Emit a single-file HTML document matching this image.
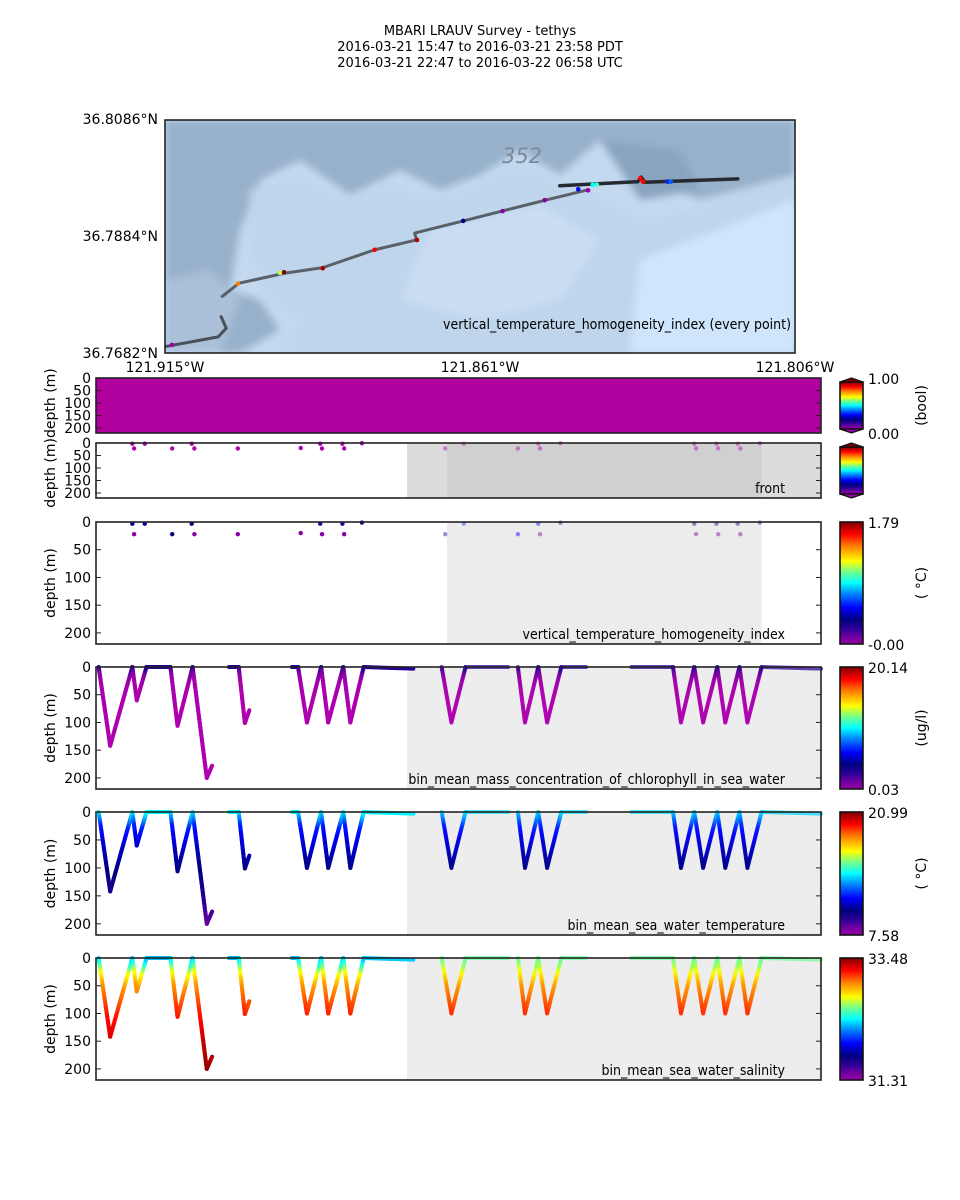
<!DOCTYPE html>
<html><head><meta charset="utf-8"><style>
html,body{margin:0;padding:0;background:#fff;}
svg{display:block;font-family:"DejaVu Sans","Liberation Sans",sans-serif;}
.t{font-size:13px;fill:#000;}
.tk{font-size:14px;fill:#000;}
.lbl{font-size:14px;fill:#000;font-stretch:condensed;}
</style></head><body>
<svg id="fig" width="960" height="1200" viewBox="0 0 960 1200" xmlns="http://www.w3.org/2000/svg">
<defs>
<linearGradient id="cmap" x1="0" y1="1" x2="0" y2="0">
<stop offset="0" stop-color="#9800a8"/><stop offset="0.06" stop-color="#7000a0"/><stop offset="0.12" stop-color="#30009a"/><stop offset="0.2" stop-color="#000080"/><stop offset="0.3" stop-color="#0000ff"/><stop offset="0.42" stop-color="#0090ff"/><stop offset="0.5" stop-color="#00ffff"/><stop offset="0.6" stop-color="#80ff80"/><stop offset="0.68" stop-color="#ffff00"/><stop offset="0.8" stop-color="#ff8000"/><stop offset="0.9" stop-color="#ff0000"/><stop offset="1" stop-color="#800000"/>
</linearGradient>
<clipPath id="mapclip"><rect x="165" y="120" width="630" height="233"/></clipPath>
<filter id="blur"><feGaussianBlur stdDeviation="4"/></filter>
</defs>
<g>
<text class="t" x="480" y="35" text-anchor="middle">MBARI LRAUV Survey - tethys</text>
<text class="t" x="480" y="51" text-anchor="middle">2016-03-21 15:47  to  2016-03-21 23:58 PDT</text>
<text class="t" x="480" y="67" text-anchor="middle">2016-03-21 22:47  to  2016-03-22 06:58 UTC</text>
</g>
<g id="map">
<g clip-path="url(#mapclip)">
<rect x="165" y="120" width="630" height="233" fill="#c3d9ef"/>
<g filter="url(#blur)">
<polygon points="165,120 795,120 795,175 700,200 640,175 600,140 560,175 520,150 480,175 440,190 400,170 350,195 300,160 260,180 240,230 230,290 260,300 280,330 240,353 165,353" fill="#98b1cb"/>
<polygon points="250,190 300,175 340,200 390,185 430,200 470,190 520,165 560,185 600,200 640,220 700,210 740,190 795,180 795,353 280,353 300,320 260,290 250,240" fill="#bfd5ec"/>
<polygon points="430,230 540,205 600,240 560,300 480,320 400,300" fill="#c9def3"/>
<polygon points="640,260 795,200 795,353 630,353" fill="#cfe5fb"/>
<polygon points="165,280 210,270 240,300 220,353 165,353" fill="#a9c0d8"/>
<polygon points="600,140 680,150 700,190 640,200" fill="#8aa4c0"/>
</g>
<text x="522" y="163" font-size="21" font-style="italic" fill="#7a8a9a" text-anchor="middle">352</text>
</g>
<g id="mapTrack" clip-path="url(#mapclip)"></g>
<rect x="165" y="120" width="630" height="233" fill="none" stroke="#222" stroke-width="1.6"/>
<text class="lbl" x="791" y="329" text-anchor="end">vertical_temperature_homogeneity_index (every point)</text>
<text class="tk" x="158" y="124" text-anchor="end">36.8086°N</text>
<text class="tk" x="158" y="241" text-anchor="end">36.7884°N</text>
<text class="tk" x="158" y="358" text-anchor="end">36.7682°N</text>
<text class="tk" x="165" y="372" text-anchor="middle">121.915°W</text>
<text class="tk" x="480" y="372" text-anchor="middle">121.861°W</text>
<text class="tk" x="795" y="372" text-anchor="middle">121.806°W</text>
</g>
<g id="panels"></g>
</svg>
<script>
// ---------- data ----------
const T_MAX = 8.18; // hours from 15:47 to 23:58
const segTimes = [
 [0.03,0.16,0.41,0.46,0.57,0.84,0.92,1.09,1.25,1.31],
 [1.50,1.61,1.68,1.73],
 [2.21,2.28,2.38,2.54,2.62,2.79,2.87,3.02,3.58],
 [3.90,4.01,4.17,4.65],
 [4.76,4.84,4.99,5.09,5.25,5.53],
 [6.04,6.51,6.60,6.75,6.85,7.01,7.10,7.26,7.35,7.51,8.18]
];
const segDepths = [
 [0,142,0,60,0,0,106,0,200,178],
 [0,0,101,78],
 [0,0,100,0,100,0,100,0,3],
 [0,100,0,0],
 [0,100,0,100,0,0],
 [0,0,100,0,100,0,100,0,100,0,3]
];
const profDepths = [0,10,25,50,100,150,200];
const chlWest  = [3.0,1.4,0.3,0.1,0.05,0.04,0.04];
const chlEast  = [2.8,1.6,0.5,0.1,0.05,0.05,0.05];
const tempWest = [14.3,13.4,12.0,11.3,10.3,9.6,8.6];
const tempEast = [14.0,13.2,12.0,11.3,10.3,9.6,8.8];
const salWest  = [32.29,32.45,32.75,33.0,33.22,33.35,33.44];
const salEast  = [32.57,32.62,32.78,33.0,33.2,33.3,33.4];
const EAST_START = 3.51;
const dotTimes  = [0.41,0.43,0.55,0.86,1.08,1.11,1.60,2.31,2.53,2.55,2.78,2.80,3.00,3.94,4.15,4.76,4.99,5.01,5.24,6.75,6.77,7.00,7.02,7.24,7.27,7.49];
const dotDepths = [3,22,3,22,3,22,22,20,3,22,3,22,1,22,3,22,3,22,1,3,22,3,22,3,22,1];
const dotVthi   = [0.22,0.05,0.22,0.2,0.2,0.05,0.05,0.04,0.12,0.05,0.15,0.05,0.12,0.12,0.35,0.3,0.32,0.05,0.2,0.2,0.05,0.15,0.05,0.15,0.05,0.15];
const dotFront  = dotTimes.map(()=>0);
const trackLon1 = [-121.9150,-121.9058,-121.9044,-121.9053];
const trackLat1 = [36.7693,36.7710,36.7725,36.7745];
const trackLon2 = [-121.9051,-121.9022,-121.8945,-121.8877,-121.8787,-121.8715,-121.8718,-121.8634,-121.8492,-121.8418];
const trackLat2 = [36.7780,36.7803,36.7820,36.7830,36.7861,36.7878,36.7890,36.7911,36.7947,36.7965];
const trackLon3 = [-121.8467,-121.8332,-121.8326,-121.8320,-121.8159];
const trackLat3 = [36.7972,36.7979,36.7987,36.7978,36.7984];
const mapDotLon = [-121.9138,-121.9024,-121.8951,-121.8944,-121.8877,-121.8787,-121.8714,-121.8634,-121.8566,-121.8493,-121.8435,-121.8418,-121.8410,-121.8403,-121.8328,-121.8323,-121.8280,-121.8275];
const mapDotLat = [36.7696,36.7802,36.7821,36.7822,36.7829,36.7861,36.7878,36.7911,36.7928,36.7947,36.7966,36.7964,36.7974,36.7974,36.7985,36.7979,36.7979,36.7979];
const mapDotVal = [0.02,0.8,0.64,1.0,0.97,0.9,0.97,0.2,0.05,0.05,0.3,0.03,0.5,0.55,0.9,0.9,0.33,0.38];

// ---------- helpers ----------
const NS='http://www.w3.org/2000/svg';
const stops=[[0,[176,0,176]],[0.06,[128,0,160]],[0.12,[48,0,154]],[0.2,[0,0,128]],[0.3,[0,0,255]],[0.42,[0,144,255]],[0.5,[0,255,255]],[0.6,[128,255,128]],[0.68,[255,255,0]],[0.8,[255,128,0]],[0.9,[255,0,0]],[1,[128,0,0]]];
function cmap(f){f=Math.max(0,Math.min(1,f));for(let i=1;i<stops.length;i++){if(f<=stops[i][0]){const a=stops[i-1],b=stops[i];const u=(f-a[0])/(b[0]-a[0]);const c=a[1].map((v,k)=>Math.round(v+(b[1][k]-v)*u));return `rgb(${c})`;}}return 'rgb(128,0,0)';}
function el(tag,attrs,parent){const e=document.createElementNS(NS,tag);for(const k in attrs)e.setAttribute(k,attrs[k]);parent.appendChild(e);return e;}
function interp(xs,ys,x){if(x<=xs[0])return ys[0];for(let i=1;i<xs.length;i++){if(x<=xs[i]){const u=(x-xs[i-1])/(xs[i]-xs[i-1]);return ys[i-1]+(ys[i]-ys[i-1])*u;}}return ys[ys.length-1];}
const X0=96,X1=821;
const xScale=t=>X0+t/T_MAX*(X1-X0);
const lonScale=lon=>165+(lon+121.915)/0.109*630;
const latScale=lat=>353-(lat-36.7682)/0.0404*233;

// ---------- map ----------
const mt=document.getElementById('mapTrack');
function trackLine(lons,lats,col,w,name){const p=el('polyline',{points:lons.map((l,i)=>lonScale(l)+','+latScale(lats[i])).join(' '),fill:'none',stroke:col,'stroke-width':w,'stroke-linejoin':'round','stroke-linecap':'round'},mt);

}
trackLine(trackLon1,trackLat1,'#4a5058',3,'track-segment-1');
trackLine(trackLon2,trackLat2,'#5a6068',3,'track-segment-2');
trackLine(trackLon3,trackLat3,'#252a30',3.5,'track-segment-3');
mapDotLon.forEach((l,i)=>{const c=el('circle',{cx:lonScale(l),cy:latScale(mapDotLat[i]),r:2.3,fill:cmap(mapDotVal[i])},mt);

});

// ---------- panels ----------
const P=document.getElementById('panels');
const panels=[
 {name:'bool-panel',top:378,h:55,ticks:[0,50,100,150,200]},
 {name:'front-panel',top:443,h:55,ticks:[0,50,100,150,200]},
 {name:'vthi-panel',top:522,h:122,ticks:[0,50,100,150,200]},
 {name:'chlorophyll-panel',top:667,h:122,ticks:[0,50,100,150,200]},
 {name:'temperature-panel',top:812,h:123,ticks:[0,50,100,150,200]},
 {name:'salinity-panel',top:958,h:122,ticks:[0,50,100,150,200]}
];
const yS=(p,d)=>p.top+d/220*p.h;
function frame(p){
 const g=el('g',{},P);
 
 
 return g;
}
function axes(g,p){
 el('rect',{x:X0,y:p.top,width:X1-X0,height:p.h,fill:'none',stroke:'#222','stroke-width':1.6},g);
 p.ticks.forEach(t=>{const y=yS(p,t);
  el('line',{x1:X0,y1:y,x2:X0+5,y2:y,stroke:'#222'},g);
  el('line',{x1:X1-5,y1:y,x2:X1,y2:y,stroke:'#222'},g);
  const tx=el('text',{x:X0-5,y:y+5,'text-anchor':'end',class:'tk'},g);tx.textContent=t;
  
  });
}
function ylabel(g,p,txt){const cy=p.top+p.h/2;const t=el('text',{x:0,y:0,transform:`translate(55,${cy}) rotate(-90)`,'text-anchor':'middle',class:'tk'},g);t.textContent=txt;

}
function colorbar(g,p,lo,hi,unit,extend){
 const cx=840,w=23;
 const cb=el('g',{},g);
 
 
 el('rect',{x:cx,y:p.top+(extend?4:0),width:w,height:p.h-(extend?8:0),fill:'url(#cmap)',stroke:'#111','stroke-width':1.6},cb);
 if(extend){
  el('polygon',{points:`${cx},${p.top+4} ${cx+w/2},${p.top} ${cx+w},${p.top+4}`,fill:'#800000',stroke:'#111','stroke-width':1.2},cb);
  el('polygon',{points:`${cx},${p.top+p.h-4} ${cx+w/2},${p.top+p.h} ${cx+w},${p.top+p.h-4}`,fill:'#9800a8',stroke:'#111','stroke-width':1.2},cb);
 }
 if(lo!==null){
  const a=el('text',{x:868,y:p.top+6,class:'tk'},cb);a.textContent=hi;
  const b=el('text',{x:868,y:p.top+p.h+6,class:'tk'},cb);b.textContent=lo;
 }
 if(unit){const u=el('text',{x:0,y:0,transform:`translate(926,${p.top+p.h/2}) rotate(-90)`,'text-anchor':'middle',class:'tk'},cb);u.textContent=unit;}
}
function label(g,p,txt){const t=el('text',{x:785,y:p.top+p.h-5,'text-anchor':'end',class:'lbl'},g);t.textContent=txt;

}
function trajectory(g,p,west,east,lo,hi,name){
 const tg=el('g',{},g);
 
 
 segTimes.forEach((ts,si)=>{
  const ds=segDepths[si];
  for(let i=1;i<ts.length;i++){
   const n=Math.max(1,Math.ceil(Math.abs(ds[i]-ds[i-1])/3));
   for(let k=0;k<n;k++){
    const u0=k/n,u1=(k+1)/n;
    const t0=ts[i-1]+(ts[i]-ts[i-1])*u0,t1=ts[i-1]+(ts[i]-ts[i-1])*u1;
    const d0=ds[i-1]+(ds[i]-ds[i-1])*u0,d1=ds[i-1]+(ds[i]-ds[i-1])*u1;
    const isEast=t0>=EAST_START;
    const v=interp(profDepths,isEast?east:west,(d0+d1)/2);
    el('line',{x1:xScale(t0),y1:yS(p,d0),x2:xScale(t1),y2:yS(p,d1),stroke:cmap((v-lo)/(hi-lo)),'stroke-width':4,'stroke-linecap':'round','stroke-opacity':isEast?0.72:1},tg);
   }
  }
 });
}
function dots(g,p,vals,lo,hi,fixedColor,name){
 const dg=el('g',{},g);
 
 
 dotTimes.forEach((t,i)=>{
  el('circle',{cx:xScale(t),cy:yS(p,dotDepths[i]),r:2.2,fill:fixedColor||cmap((vals[i]-lo)/(hi-lo)),'fill-opacity':t>=EAST_START?0.45:1},dg);
 });
}
// panel 1: bool
{const p=panels[0],g=frame(p);
 el('rect',{x:X0,y:p.top,width:X1-X0,height:p.h,fill:'#b000a0'},g);
 axes(g,p);colorbar(g,p,'0.00','1.00','(bool)',true);}
// panel 2: front
{const p=panels[1],g=frame(p);
 el('rect',{x:xScale(3.51),y:p.top,width:X1-xScale(3.51),height:p.h,fill:'#dcdcdc'},g);
 el('rect',{x:xScale(3.96),y:p.top,width:xScale(7.51)-xScale(3.96),height:p.h,fill:'#d0d0d0'},g);
 dots(g,p,dotFront,0,1,'#b000b0','front-points');
 axes(g,p);colorbar(g,p,null,null,null,true);label(g,p,'front');}
{const t=el('text',{x:0,y:0,transform:'translate(55,438) rotate(-90)','text-anchor':'middle',class:'tk'},P);t.textContent='depth (m)depth (m)';

}
// panel 3: vthi
{const p=panels[2],g=frame(p);
 el('rect',{x:xScale(3.96),y:p.top,width:xScale(7.51)-xScale(3.96),height:p.h,fill:'#ececec'},g);
 dots(g,p,dotVthi,0,1,null,'vthi-points');
 axes(g,p);colorbar(g,p,'-0.00','1.79','( °C)',false);
 ylabel(g,p,'depth (m)');label(g,p,'vertical_temperature_homogeneity_index');}
// panel 4: chl
{const p=panels[3],g=frame(p);
 el('rect',{x:xScale(EAST_START),y:p.top,width:X1-xScale(EAST_START),height:p.h,fill:'#ededed'},g);
 trajectory(g,p,chlWest,chlEast,0.03,20.14,'chlorophyll-trajectory');
 axes(g,p);colorbar(g,p,'0.03','20.14','(ug/l)',false);
 ylabel(g,p,'depth (m)');label(g,p,'bin_mean_mass_concentration_of_chlorophyll_in_sea_water');}
// panel 5: temp
{const p=panels[4],g=frame(p);
 el('rect',{x:xScale(EAST_START),y:p.top,width:X1-xScale(EAST_START),height:p.h,fill:'#ededed'},g);
 trajectory(g,p,tempWest,tempEast,7.58,20.99,'temperature-trajectory');
 axes(g,p);colorbar(g,p,'7.58','20.99','( °C)',false);
 ylabel(g,p,'depth (m)');label(g,p,'bin_mean_sea_water_temperature');}
// panel 6: salinity
{const p=panels[5],g=frame(p);
 el('rect',{x:xScale(EAST_START),y:p.top,width:X1-xScale(EAST_START),height:p.h,fill:'#ededed'},g);
 trajectory(g,p,salWest,salEast,31.31,33.48,'salinity-trajectory');
 axes(g,p);colorbar(g,p,'31.31','33.48',null,false);
 ylabel(g,p,'depth (m)');label(g,p,'bin_mean_sea_water_salinity');}
</script>
</body></html>
